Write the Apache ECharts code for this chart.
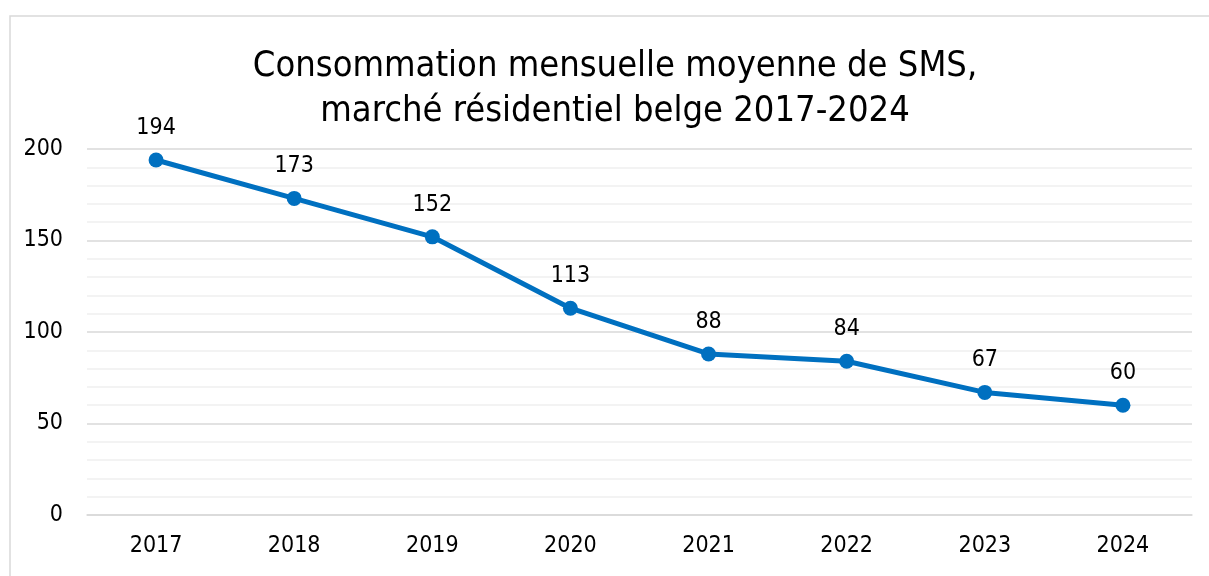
<!DOCTYPE html>
<html>
<head>
<meta charset="utf-8">
<script src="https://cdn.jsdelivr.net/npm/echarts@6/dist/echarts.min.js"></script>
<style>
  html, body { margin: 0; padding: 0; background: #fff; }
  #main { width: 1209px; height: 576px; }
</style>
</head>
<body>
<div id="main"></div>
<script>
const years = ['2017', '2018', '2019', '2020', '2021', '2022', '2023', '2024']
const smsPerMonth = [194, 173, 152, 113, 88, 84, 67, 60]
const titleLines = ['Consommation mensuelle moyenne de SMS,', 'marché résidentiel belge 2017-2024']

const fontName = '"DejaVu Sans Condensed", "DejaVu Sans", sans-serif'

let chart = echarts.init(document.getElementById('main'))
chart.setOption({
    animation: false,
    textStyle: { fontFamily: fontName },
    graphic: [
        {
            type: 'rect',
            shape: { x: 10, y: 16, width: 1220, height: 600 },
            style: { fill: 'none', stroke: '#d9d9d9', lineWidth: 1.5 },
            z: 0
        }
    ],
    title: {
        text: titleLines.join('\n'),
        left: 610,
        top: 39,
        textAlign: 'center',
        textStyle: {
            fontFamily: fontName,
            fontSize: 36,
            fontWeight: 'normal',
            color: '#000',
            lineHeight: 45
        }
    },
    grid: {
        left: 87,
        right: 17,
        top: 149,
        bottom: 61
    },
    xAxis: {
        type: 'category',
        data: years,
        boundaryGap: true,
        axisLine: { show: true, lineStyle: { color: '#d9d9d9', width: 1.5 } },
        axisTick: { show: false },
        axisLabel: { fontSize: 23, color: '#000', margin: 20 }
    },
    yAxis: {
        type: 'value',
        min: 0,
        max: 200,
        interval: 50,
        axisLine: { show: false },
        axisTick: { show: false },
        axisLabel: { fontSize: 23, color: '#000', margin: 24 },
        splitLine: { lineStyle: { color: '#d9d9d9', width: 1.5 } },
        minorTick: { show: false, splitNumber: 5 },
        minorSplitLine: { show: true, lineStyle: { color: '#f0f0f0', width: 1.5 } }
    },
    series: [
        {
            type: 'line',
            data: smsPerMonth,
            symbol: 'circle',
            symbolSize: 15,
            lineStyle: { color: '#0070c0', width: 5 },
            itemStyle: { color: '#0070c0' },
            label: {
                show: true,
                position: 'top',
                distance: 13,
                fontSize: 23,
                color: '#000'
            },
            z: 5
        }
    ]
})
</script>
</body>
</html>
